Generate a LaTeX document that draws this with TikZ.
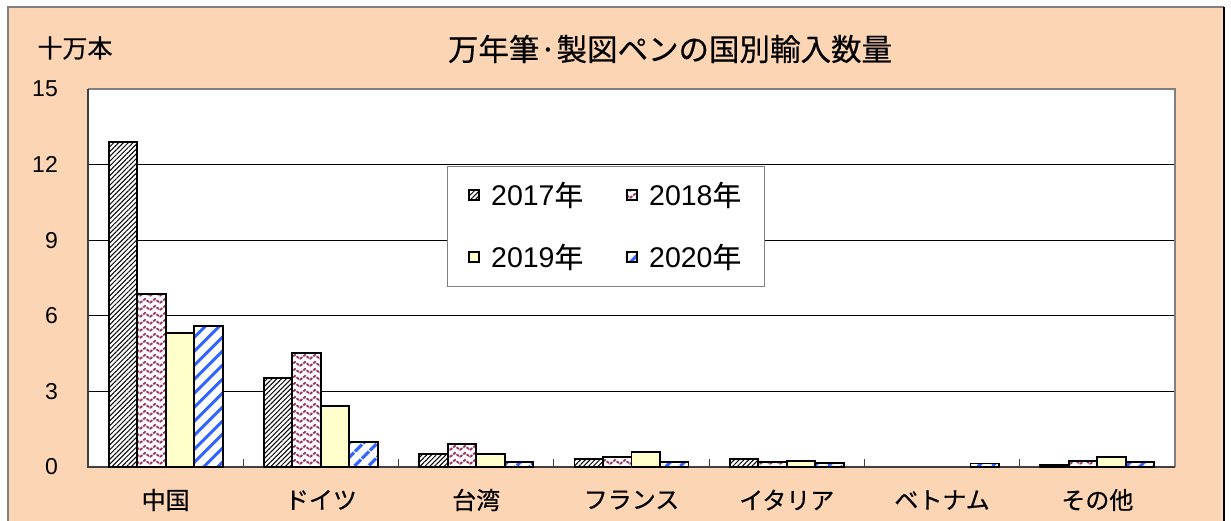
\documentclass[tikz,border=0pt]{standalone}
\usepackage{fontspec}
\setmainfont{Liberation Sans}
\newfontfamily\jp[FakeBold=0.4]{Noto Sans CJK JP}
\usetikzlibrary{patterns,patterns.meta}
\definecolor{peach}{HTML}{FCD5B5}
\definecolor{maroonc}{HTML}{993366}
\definecolor{lyellow}{HTML}{FFFFCC}
\definecolor{sblue}{HTML}{3366FF}
\definecolor{frame}{HTML}{808080}
\pgfdeclarepatternformonly{zigzagp}{\pgfqpoint{-1pt}{-1pt}}{\pgfqpoint{11pt}{9pt}}{\pgfqpoint{10pt}{7pt}}{%
  \pgfsetlinewidth{1.8pt}%
  \pgfsetdash{{3pt}{1.2pt}}{0pt}%
  \pgfpathmoveto{\pgfqpoint{0pt}{1pt}}%
  \pgfpathlineto{\pgfqpoint{5pt}{5pt}}%
  \pgfpathlineto{\pgfqpoint{10pt}{1pt}}%
  \pgfusepath{stroke}%
}
\tikzset{
  s2017/.style={preaction={fill=white}, pattern={Lines[angle=45,distance=3.4pt,line width=1pt]}, pattern color=black},
  s2018/.style={preaction={fill=white}, pattern=zigzagp, pattern color=maroonc},
  s2019/.style={fill=lyellow},
  s2020/.style={preaction={fill=white}, pattern={Lines[angle=45,distance=10.5pt,line width=3.5pt]}, pattern color=sblue},
  barbox/.style={draw=black, line width=1.9pt},
  swatch/.style={draw=black, line width=1.4pt, minimum size=10pt, inner sep=0pt},
  ticklbl/.style={anchor=east, font=\fontsize{23}{23}\selectfont, inner sep=0pt},
  catlbl/.style={font=\jp\fontsize{24}{24}\selectfont, inner sep=0pt},
  leglbl/.style={anchor=west, font=\fontsize{28.5}{28.5}\selectfont, inner sep=0pt},
  grid/.style={black, line width=0.9pt},
}
\newcommand\mybar[4]{%
  \path[barbox,#4] ({88+#1*155.286+20.6+#2*28.5},467) rectangle ++(28.5,{-25.2*#3});%
}
\begin{document}
\begin{tikzpicture}[x=1pt,y=-1pt]
\useasboundingbox (0,0) rectangle (1231,521);
\fill[white] (0,0) rectangle (1231,521);
% outer chart area
\fill[peach] (8,7) rectangle (1224,521);
\draw[frame, line width=1.2pt] (8,521) -- (8,7) -- (1224,7);
\draw[black, line width=1.2pt] (1224,7) -- (1224,521);
% plot area
\fill[white] (88,89) rectangle (1175,467);
\foreach \v in {3,6,9,12} {
  \draw[grid] (88,{467-25.2*\v}) -- (1175,{467-25.2*\v});
}
\draw[frame, line width=1.8pt] (88,89) -- (1175,89) -- (1175,467);
\draw[black!75, line width=1.5pt] (88,89) -- (88,467) -- (1175,467);
\foreach \k in {1,...,6} {
  \draw[black!75, line width=1pt] ({88+\k*155.286},467) -- ({88+\k*155.286},459);
}
% title and unit
\node[font=\jp\fontsize{30.5}{30.5}\selectfont, inner sep=0pt] (title) at (670,49) {万年筆·製図ペンの国別輸入数量};
\node[font=\jp\fontsize{25}{25}\selectfont, inner sep=0pt] (unit) at (75,48) {十万本};
% y tick labels
\node[ticklbl] (y15) at (58,89) {15};
\node[ticklbl] (y12) at (58,164.6) {12};
\node[ticklbl] (y9) at (58,240.2) {9};
\node[ticklbl] (y6) at (58,315.8) {6};
\node[ticklbl] (y3) at (58,391.4) {3};
\node[ticklbl] (y0) at (58,467) {0};
% bars
\mybar{0}{0}{12.9}{s2017}
\mybar{0}{1}{6.85}{s2018}
\mybar{0}{2}{5.3}{s2019}
\mybar{0}{3}{5.6}{s2020}
\mybar{1}{0}{3.52}{s2017}
\mybar{1}{1}{4.54}{s2018}
\mybar{1}{2}{2.42}{s2019}
\mybar{1}{3}{0.98}{s2020}
\mybar{2}{0}{0.52}{s2017}
\mybar{2}{1}{0.9}{s2018}
\mybar{2}{2}{0.5}{s2019}
\mybar{2}{3}{0.2}{s2020}
\mybar{3}{0}{0.3}{s2017}
\mybar{3}{1}{0.41}{s2018}
\mybar{3}{2}{0.61}{s2019}
\mybar{3}{3}{0.21}{s2020}
\mybar{4}{0}{0.3}{s2017}
\mybar{4}{1}{0.21}{s2018}
\mybar{4}{2}{0.24}{s2019}
\mybar{4}{3}{0.17}{s2020}
\mybar{5}{3}{0.14}{s2020}
\mybar{6}{0}{0.08}{s2017}
\mybar{6}{1}{0.25}{s2018}
\mybar{6}{2}{0.38}{s2019}
\mybar{6}{3}{0.2}{s2020}
% category labels
\node[catlbl] (c0) at ({88+0.5*155.286},500) {中国};
\node[catlbl] (c1) at ({88+1.5*155.286},500) {ドイツ};
\node[catlbl] (c2) at ({88+2.5*155.286},500) {台湾};
\node[catlbl] (c3) at ({88+3.5*155.286},500) {フランス};
\node[catlbl] (c4) at ({88+4.5*155.286},500) {イタリア};
\node[catlbl] (c5) at ({88+5.5*155.286},500) {ベトナム};
\node[catlbl] (c6) at ({88+6.5*155.286},500) {その他};
% legend
\draw[frame, line width=1pt, fill=white] (447,167) rectangle (764,287);
\node[swatch, s2017] (k1) at (474,195) {};
\node[leglbl] (l1) at (491,195) {2017{\jp 年}};
\node[swatch, s2018] (k2) at (632,195) {};
\node[leglbl] (l2) at (649,195) {2018{\jp 年}};
\node[swatch, s2019] (k3) at (474,257) {};
\node[leglbl] (l3) at (491,257) {2019{\jp 年}};
\node[swatch, s2020] (k4) at (632,257) {};
\node[leglbl] (l4) at (649,257) {2020{\jp 年}};
\end{tikzpicture}
\end{document}
